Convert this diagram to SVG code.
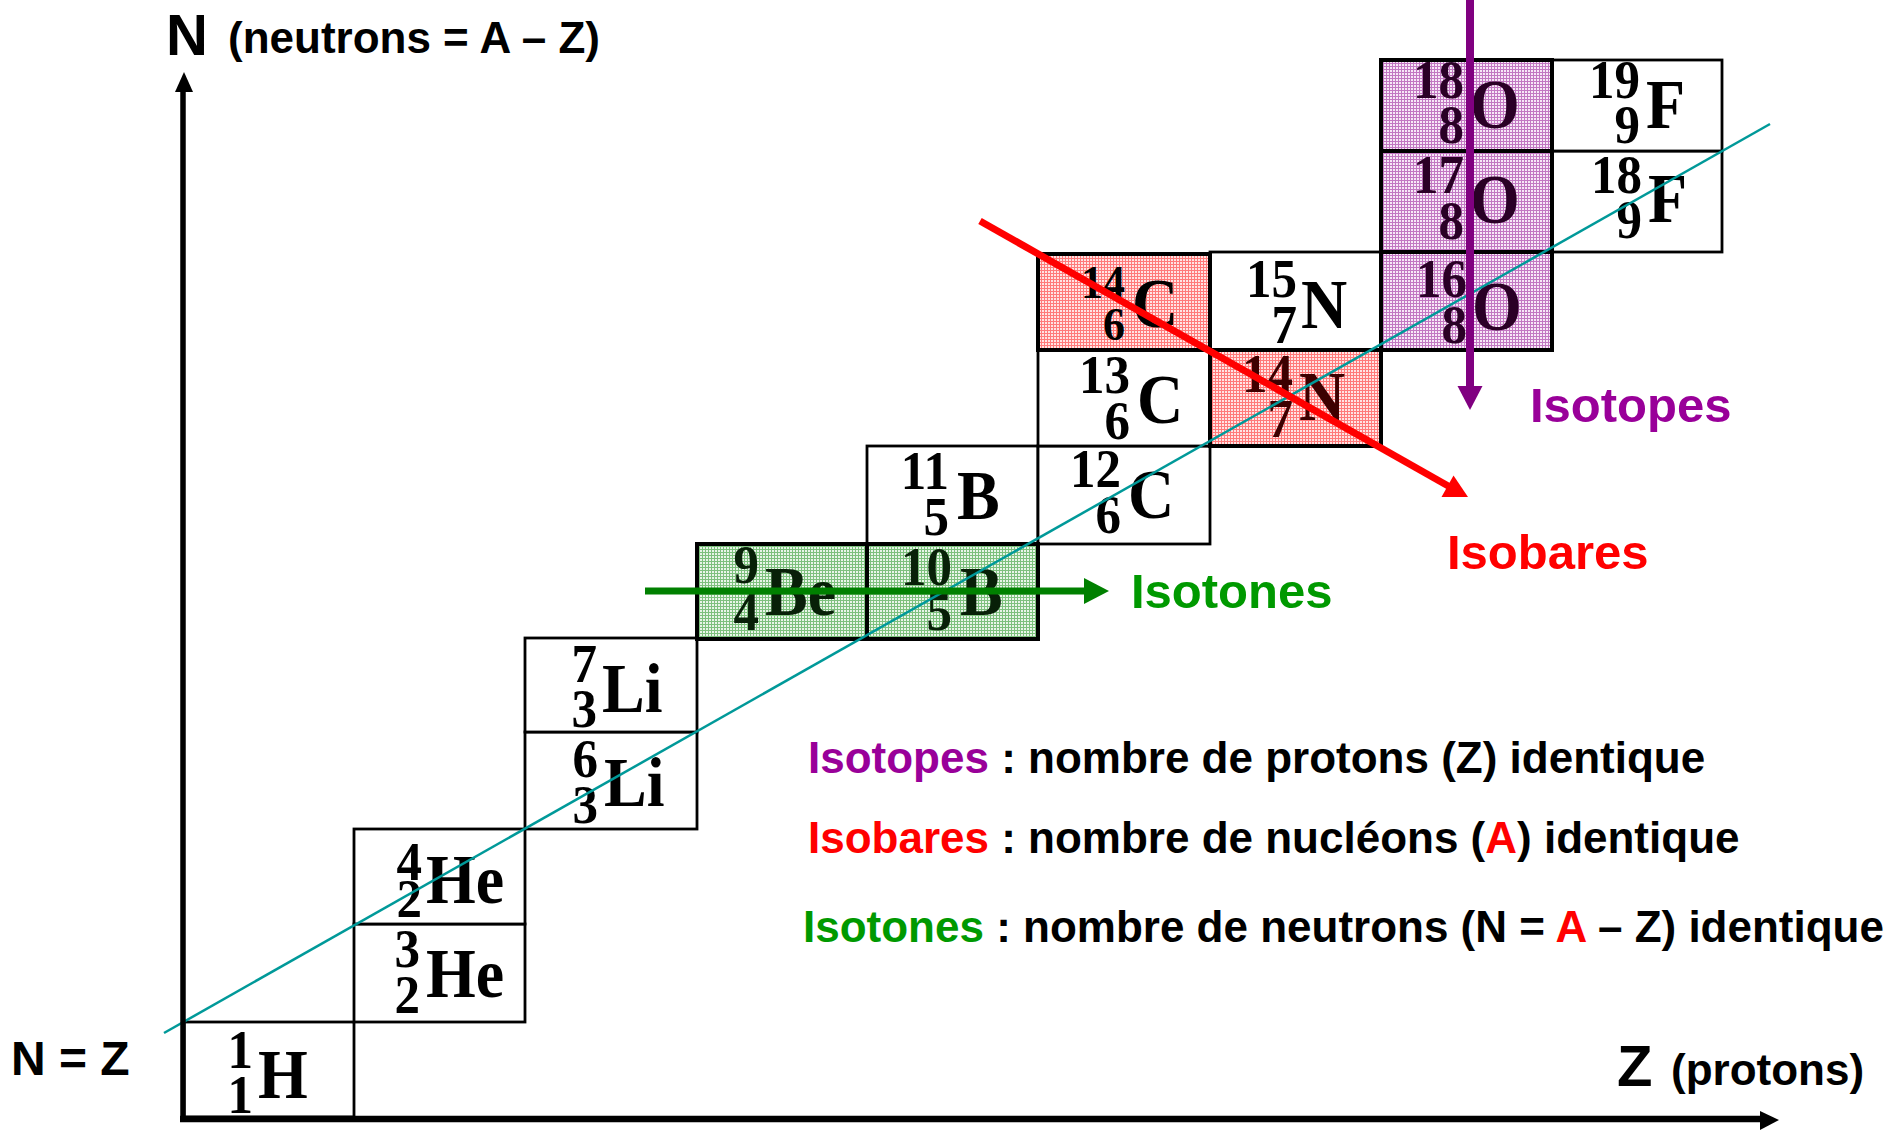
<svg xmlns="http://www.w3.org/2000/svg" width="1901" height="1134" viewBox="0 0 1901 1134">
<style>
.cell{fill:#fff;stroke:#000;stroke-width:2.8}
.hl{stroke-width:4}
.num{font-family:"Liberation Serif","Times New Roman",serif;font-weight:bold;font-size:51px;text-anchor:end}
.sm{font-size:44px}
.el{font-family:"Liberation Serif","Times New Roman",serif;font-weight:bold;font-size:64px}
.sans{font-family:"Liberation Sans",Arial,sans-serif;font-weight:bold}
.lbl{font-size:49px}
.leg{font-size:44px}
.purple{fill:#990099}
.red{fill:#ff0000}
.green{fill:#009900}
</style>
<defs>
<pattern id="pRed" width="3" height="3" patternUnits="userSpaceOnUse"><rect width="3" height="3" fill="#ffe4e4"/><path d="M0 0.5H3M0.5 0V3" stroke="#ff7a7a" stroke-width="1"/></pattern>
<pattern id="pPur" width="3" height="3" patternUnits="userSpaceOnUse"><rect width="3" height="3" fill="#f7e8f7"/><path d="M0 0.5H3M0.5 0V3" stroke="#c278c2" stroke-width="1"/></pattern>
<pattern id="pGrn" width="3" height="3" patternUnits="userSpaceOnUse"><rect width="3" height="3" fill="#e8f5e8"/><path d="M0 0.5H3M0.5 0V3" stroke="#7dc07d" stroke-width="1"/></pattern>
</defs>
<rect width="1901" height="1134" fill="#fff"/>

<g id="cells">
<g id="H1"><rect class="cell" x="184" y="1022" width="170" height="95"/><text class="num" transform="translate(253 1068) scale(1 1.06)">1</text><text class="num" transform="translate(253 1113) scale(1 1.06)">1</text><text class="el" transform="translate(258 1098) scale(1 1.08)">H</text></g>
<g id="He3"><rect class="cell" x="354" y="924" width="171" height="98"/><text class="num" transform="translate(420 967) scale(1 1.06)">3</text><text class="num" transform="translate(420 1013) scale(1 1.06)">2</text><text class="el" transform="translate(426 997) scale(1 1.08)">He</text></g>
<g id="He4"><rect class="cell" x="354" y="829" width="171" height="95"/><text class="num" transform="translate(422 880) scale(1 1.06)">4</text><text class="num" transform="translate(422 917) scale(1 1.06)">2</text><text class="el" transform="translate(426 903) scale(1 1.08)">He</text></g>
<g id="Li6"><rect class="cell" x="525" y="732" width="172" height="97"/><text class="num" transform="translate(598 777) scale(1 1.06)">6</text><text class="num" transform="translate(598 823) scale(1 1.06)">3</text><text class="el" transform="translate(604 806) scale(1 1.08)">Li</text></g>
<g id="Li7"><rect class="cell" x="525" y="638" width="172" height="94"/><text class="num" transform="translate(597 682) scale(1 1.06)">7</text><text class="num" transform="translate(597 727) scale(1 1.06)">3</text><text class="el" transform="translate(602 712) scale(1 1.08)">Li</text></g>
<g id="B11"><rect class="cell" x="867" y="446" width="171" height="98"/><text class="num" transform="translate(949 489) scale(1 1.06)">11</text><text class="num" transform="translate(949 535) scale(1 1.06)">5</text><text class="el" transform="translate(957 519) scale(1 1.08)">B</text></g>
<g id="C12"><rect class="cell" x="1038" y="446" width="172" height="98"/><text class="num" transform="translate(1121 487) scale(1 1.06)">12</text><text class="num" transform="translate(1121 533) scale(1 1.06)">6</text><text class="el" transform="translate(1128 518) scale(1 1.08)">C</text></g>
<g id="C13"><rect class="cell" x="1038" y="350" width="172" height="96"/><text class="num" transform="translate(1130 393) scale(1 1.06)">13</text><text class="num" transform="translate(1130 439) scale(1 1.06)">6</text><text class="el" transform="translate(1137 423) scale(1 1.08)">C</text></g>
<g id="N15"><rect class="cell" x="1210" y="252" width="171" height="98"/><text class="num" transform="translate(1297 297) scale(1 1.06)">15</text><text class="num" transform="translate(1297 343) scale(1 1.06)">7</text><text class="el" transform="translate(1301 328) scale(1 1.08)">N</text></g>
<g id="F18"><rect class="cell" x="1552" y="151" width="170" height="101"/><text class="num" transform="translate(1642 193) scale(1 1.06)">18</text><text class="num" transform="translate(1642 238) scale(1 1.06)">9</text><text class="el" transform="translate(1648 222) scale(1 1.08)">F</text></g>
<g id="F19"><rect class="cell" x="1552" y="60" width="170" height="91"/><text class="num" transform="translate(1640 98) scale(1 1.06)">19</text><text class="num" transform="translate(1640 143) scale(1 1.06)">9</text><text class="el" transform="translate(1646 128) scale(1 1.08)">F</text></g>

<g id="Be9"><rect class="cell hl" x="697" y="544" width="170" height="95" style="fill:url(#pGrn)"/><g fill="#082008"><text class="num" transform="translate(759 583) scale(1 1.06)">9</text><text class="num" transform="translate(759 630) scale(1 1.06)">4</text><text class="el" transform="translate(765 615) scale(1 1.08)">Be</text></g></g>
<g id="B10"><rect class="cell hl" x="867" y="544" width="171" height="95" style="fill:url(#pGrn)"/><g fill="#082008"><text class="num" transform="translate(952 585) scale(1 1.06)">10</text><text class="num" transform="translate(952 630) scale(1 1.06)">5</text><text class="el" transform="translate(960 615) scale(1 1.08)">B</text></g></g>
<g id="C14"><rect class="cell hl" x="1038" y="254" width="172" height="96" style="fill:url(#pRed)"/><text class="num sm" transform="translate(1125 298) scale(1 1.06)">14</text><text class="num sm" transform="translate(1125 340) scale(1 1.06)">6</text><text class="el" transform="translate(1132 327) scale(1 1.08)">C</text></g>
<g id="N14"><rect class="cell hl" x="1210" y="350" width="171" height="96" style="fill:url(#pRed)"/><g fill="#3d0000"><text class="num" transform="translate(1293 392) scale(1 1.06)">14</text><text class="num" transform="translate(1293 437) scale(1 1.06)">7</text><text class="el" transform="translate(1299 420) scale(1 1.08)">N</text></g></g>
<g id="O16"><rect class="cell hl" x="1381" y="252" width="171" height="98" style="fill:url(#pPur)"/><g fill="#2a0026"><text class="num" transform="translate(1467 297) scale(1 1.06)">16</text><text class="num" transform="translate(1467 343) scale(1 1.06)">8</text><text class="el" transform="translate(1472 330) scale(1 1.08)">O</text></g></g>
<g id="O17"><rect class="cell hl" x="1381" y="151" width="171" height="101" style="fill:url(#pPur)"/><g fill="#2a0026"><text class="num" transform="translate(1464 193) scale(1 1.06)">17</text><text class="num" transform="translate(1464 239) scale(1 1.06)">8</text><text class="el" transform="translate(1470 223) scale(1 1.08)">O</text></g></g>
<g id="O18"><rect class="cell hl" x="1381" y="60" width="171" height="91" style="fill:url(#pPur)"/><g fill="#2a0026"><text class="num" transform="translate(1464 98) scale(1 1.06)">18</text><text class="num" transform="translate(1464 143) scale(1 1.06)">8</text><text class="el" transform="translate(1470 128) scale(1 1.08)">O</text></g></g>
</g>

<g id="connectors">
<line id="diag" x1="164" y1="1033" x2="1770" y2="124" stroke="#009999" stroke-width="2.5"/>
<g id="yaxis"><line x1="183" y1="1122" x2="183" y2="90" stroke="#000" stroke-width="5.5"/><polygon points="184,72 175,92 193,92" fill="#000"/></g>
<g id="xaxis"><line x1="180" y1="1119" x2="1762" y2="1119" stroke="#000" stroke-width="6.5"/><polygon points="1779,1120 1760,1111 1760,1130" fill="#000"/></g>
<g id="isobar-arrow"><line x1="980" y1="221" x2="1450" y2="487" stroke="#ff0000" stroke-width="7"/><polygon points="1468,497 1441.5,497 1453.5,475.5" fill="#ff0000"/></g>
<g id="isotone-arrow"><line x1="645" y1="591" x2="1086" y2="591" stroke="#008000" stroke-width="7"/><polygon points="1109,591 1084,578 1084,604" fill="#008000"/></g>
<g id="isotope-arrow"><line x1="1470" y1="0" x2="1470" y2="389" stroke="#800080" stroke-width="8"/><polygon points="1470,410 1457.5,386 1482.5,386" fill="#800080"/></g>
</g>

<g id="labels" class="sans">
<text x="166" y="55" font-size="58">N</text>
<text x="228" y="53" font-size="44">(neutrons = A – Z)</text>
<text x="11" y="1075" font-size="48">N = Z</text>
<text x="1617" y="1086" font-size="58">Z</text>
<text x="1671" y="1085" font-size="44">(protons)</text>
<text class="lbl purple" x="1530" y="422">Isotopes</text>
<text class="lbl red" x="1447" y="569">Isobares</text>
<text class="lbl green" x="1131" y="608">Isotones</text>
<text class="leg" x="808" y="773"><tspan class="purple">Isotopes</tspan> : nombre de protons (Z) identique</text>
<text class="leg" x="808" y="853"><tspan class="red">Isobares</tspan> : nombre de nucléons (<tspan class="red">A</tspan>) identique</text>
<text class="leg" x="803" y="942"><tspan class="green">Isotones</tspan> : nombre de neutrons (N = <tspan class="red">A</tspan> – Z) identique</text>
</g>
</svg>
